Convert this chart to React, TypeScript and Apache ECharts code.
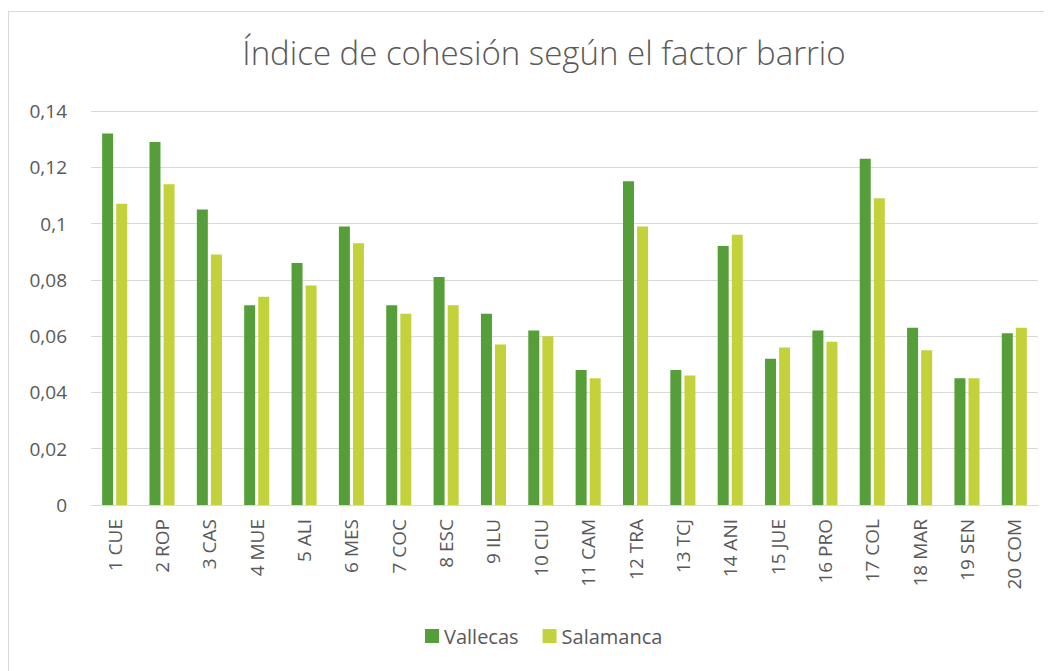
import React, { useEffect, useRef } from "react";
import * as echarts from "echarts";

const categories = [
  "1 CUE", "2 ROP", "3 CAS", "4 MUE", "5 ALI", "6 MES", "7 COC", "8 ESC", "9 ILU", "10 CIU",
  "11 CAM", "12 TRA", "13 TCJ", "14 ANI", "15 JUE", "16 PRO", "17 COL", "18 MAR", "19 SEN", "20 COM",
];
const vallecas = [
  0.132, 0.129, 0.105, 0.071, 0.086, 0.099, 0.071, 0.081, 0.068, 0.062,
  0.048, 0.115, 0.048, 0.092, 0.052, 0.062, 0.123, 0.063, 0.045, 0.061,
];
const salamanca = [
  0.107, 0.114, 0.089, 0.074, 0.078, 0.093, 0.068, 0.071, 0.057, 0.06,
  0.045, 0.099, 0.046, 0.096, 0.056, 0.058, 0.109, 0.055, 0.045, 0.063,
];
const yTicks = [0, 0.02, 0.04, 0.06, 0.08, 0.1, 0.12, 0.14];

const FONT = "'Open Sans', 'Noto Sans', sans-serif";
const TEXT = "#595959";

export default function App() {
  const ref = useRef<HTMLDivElement>(null);
  useEffect(() => {
    if (!ref.current) return;
    const chart = echarts.init(ref.current, undefined, { renderer: "svg" });
    chart.setOption({
      animation: false,
      backgroundColor: "#ffffff",
      title: {
        text: "Índice de cohesión según el factor barrio",
        left: 530,
        textAlign: "center",
        top: 19,
        textStyle: { fontFamily: FONT, fontWeight: 300, fontSize: 33, color: TEXT },
      },
      legend: {
        bottom: 21,
        left: 411,
        itemWidth: 14,
        itemHeight: 14,
        itemGap: 24,
        icon: "rect",
        textStyle: { fontFamily: FONT, fontSize: 20, color: TEXT },
        data: ["Vallecas", "Salamanca"],
      },
      grid: { left: 82, right: 9, top: 99, bottom: 167, containLabel: false },
      xAxis: {
        type: "category",
        data: categories,
        axisLine: { lineStyle: { color: "#d9d9d9", width: 1 } },
        axisTick: { show: false },
        axisLabel: {
          rotate: 90,
          margin: 14,
          interval: 0,
          fontFamily: FONT,
          fontSize: 19,
          color: TEXT,
        },
      },
      yAxis: {
        type: "value",
        min: 0,
        max: yTicks[yTicks.length - 1],
        interval: 0.02,
        axisLine: { show: false },
        axisTick: { show: false },
        splitLine: { lineStyle: { color: "#d9d9d9", width: 1 } },
        axisLabel: {
          margin: 24,
          fontFamily: FONT,
          fontSize: 19,
          color: TEXT,
          formatter: (v: number) => String(Math.round(v * 100) / 100).replace(".", ","),
        },
      },
      series: [
        {
          name: "Vallecas",
          type: "bar",
          data: vallecas,
          barWidth: 11,
          barGap: "28%",
          itemStyle: { color: "#559E39" },
        },
        {
          name: "Salamanca",
          type: "bar",
          data: salamanca,
          barWidth: 11,
          itemStyle: { color: "#C3D13B" },
        },
      ],
    });
    return () => chart.dispose();
  }, []);
  return (
    <div
      style={{
        marginTop: 3,
        width: 1040,
        height: 680,
        border: "1px solid #d9d9d9",
        boxSizing: "border-box",
      }}
    >
      <div ref={ref} style={{ width: 1038, height: 660 }} />
    </div>
  );
}
